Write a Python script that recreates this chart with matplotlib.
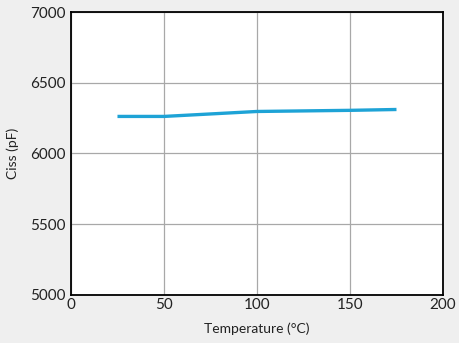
import numpy as np
import matplotlib.pyplot as plt

temp = [25, 50, 100, 150, 175]
ciss = [6262, 6262, 6297, 6305, 6311]
xticks = [0, 50, 100, 150, 200]
yticks = [5000, 5500, 6000, 6500, 7000]

plt.rcParams['font.family'] = ['Lato', 'DejaVu Sans']

fig = plt.figure(figsize=(4.6, 3.43), dpi=100, facecolor='#efefef')
ax = fig.add_axes([0.1543, 0.14, 0.8087, 0.825])
ax.set_facecolor('white')

ax.plot(temp, ciss, color='#1ea3d6', linewidth=2.4, solid_capstyle='butt')

ax.set_xlim(0, 200)
ax.set_ylim(5000, 7000)
ax.set_xticks(xticks)
ax.set_yticks(yticks)
ax.grid(True, color='#a8a8a8', linewidth=0.9)
ax.set_axisbelow(True)
for s in ax.spines.values():
    s.set_linewidth(1.3)
    s.set_color('black')
ax.tick_params(length=0, labelsize=11, pad=4, colors='#222222')
ax.tick_params(axis='x', pad=2)

ax.set_xlabel('Temperature (°C)', fontsize=10, color='#222222', labelpad=8)
ax.set_ylabel('Ciss (pF)', fontsize=10, color='#222222', labelpad=8)

fig.savefig('out.png', dpi=100, facecolor=fig.get_facecolor())
